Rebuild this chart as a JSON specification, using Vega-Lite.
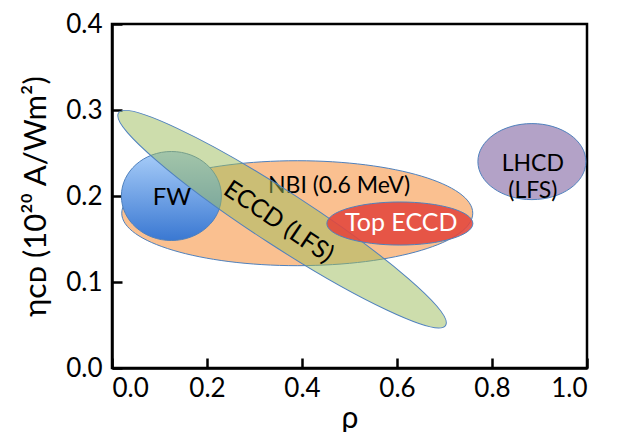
{
  "$schema": "https://vega.github.io/schema/vega-lite/v6.json",
  "width": 475,
  "height": 344,
  "autosize": {"type": "none"},
  "padding": {"left": 112, "top": 24, "right": 30, "bottom": 64},
  "background": "white",
  "config": {
    "view": {"stroke": "black", "strokeWidth": 2.5},
    "font": "Lato",
    "axis": {
      "domainColor": "black", "domainWidth": 2.5,
      "tickColor": "black", "tickWidth": 2.5, "tickSize": -10,
      "grid": false,
      "labelFont": "Lato", "labelFontSize": 26, "labelColor": "black",
      "titleFont": "Lato", "titleFontWeight": "normal", "titleColor": "black"
    }
  },
  "datasets": {
    "regions": [
      {"region": "NBI", "rho": 0.39, "eta": 0.18},
      {"region": "FW", "rho": 0.125, "eta": 0.2},
      {"region": "ECCD", "rho": 0.358, "eta": 0.173},
      {"region": "Top ECCD", "rho": 0.606, "eta": 0.168},
      {"region": "LHCD", "rho": 0.884, "eta": 0.24}
    ],
    "labels": [
      {"region": "NBI", "label": "NBI (0.6 MeV)", "rho": 0.478, "eta": 0.212},
      {"region": "FW", "label": "FW", "rho": 0.126, "eta": 0.198},
      {"region": "ECCD", "label": "ECCD (LFS)", "rho": 0.351, "eta": 0.17},
      {"region": "Top ECCD", "label": "Top ECCD", "rho": 0.609, "eta": 0.169},
      {"region": "LHCD", "label": "LHCD\n(LFS)", "rho": 0.886, "eta": 0.237}
    ]
  },
  "encoding": {
    "x": {
      "field": "rho", "type": "quantitative",
      "scale": {"domain": [0, 1], "nice": false, "zero": false},
      "axis": {"values": [0, 0.2, 0.4, 0.6, 0.8, 1.0], "format": ".1f", "labelPadding": 17, "title": "ρ", "titleFontSize": 30, "titlePadding": 2}
    },
    "y": {
      "field": "eta", "type": "quantitative",
      "scale": {"domain": [0, 0.4], "nice": false, "zero": false},
      "axis": {"values": [0, 0.1, 0.2, 0.3, 0.4], "format": ".1f", "labelPadding": 20, "title": "ηᴄᴅ (10²⁰ A/Wm²)", "titleFontSize": 31, "titlePadding": 13}
    }
  },
  "layer": [
    {
      "data": {"name": "regions"},
      "transform": [{"filter": "datum.region === 'NBI'"}],
      "mark": {"type": "point", "filled": true, "opacity": 1, "color": "#FAC090", "stroke": "#4F81BD", "strokeWidth": 1, "size": 123201,
        "shape": "M1,0C1,0.1651 0.5523,0.299 0,0.299C-0.5523,0.299 -1,0.1651 -1,0C-1,-0.1651 -0.5523,-0.299 0,-0.299C0.5523,-0.299 1,-0.1651 1,0Z"}
    },
    {
      "data": {"name": "labels"},
      "transform": [{"filter": "datum.region === 'NBI'"}],
      "mark": {"type": "text", "font": "Lato", "fontSize": 23, "color": "black", "baseline": "middle", "align": "center"},
      "encoding": {"text": {"field": "label"}}
    },
    {
      "data": {"name": "regions"},
      "transform": [{"filter": "datum.region === 'FW'"}],
      "mark": {"type": "point", "filled": true, "opacity": 1,
        "color": {"gradient": "linear", "x1": 0, "y1": 0, "x2": 0, "y2": 1, "stops": [{"offset": 0, "color": "#A9CEF9"}, {"offset": 1, "color": "#3A78D2"}]},
        "stroke": "#4F81BD", "strokeWidth": 1, "size": 10000,
        "shape": "M1,0C1,0.4915 0.5523,0.89 0,0.89C-0.5523,0.89 -1,0.4915 -1,0C-1,-0.4915 -0.5523,-0.89 0,-0.89C0.5523,-0.89 1,-0.4915 1,0Z"}
    },
    {
      "data": {"name": "regions"},
      "transform": [{"filter": "datum.region === 'ECCD'"}],
      "mark": {"type": "point", "filled": true, "opacity": 1, "color": "#9BBB59", "fillOpacity": 0.5, "stroke": "#4F81BD", "strokeWidth": 1, "size": 152100, "angle": 33,
        "shape": "M1,0C1,0.0762 0.5523,0.138 0,0.138C-0.5523,0.138 -1,0.0762 -1,0C-1,-0.0762 -0.5523,-0.138 0,-0.138C0.5523,-0.138 1,-0.0762 1,0Z"}
    },
    {
      "data": {"name": "regions"},
      "transform": [{"filter": "datum.region === 'Top ECCD'"}],
      "mark": {"type": "point", "filled": true, "opacity": 1, "color": "#E2453B", "fillOpacity": 0.88, "stroke": "#4F81BD", "strokeWidth": 1, "size": 21316,
        "shape": "M1,0C1,0.1629 0.5523,0.295 0,0.295C-0.5523,0.295 -1,0.1629 -1,0C-1,-0.1629 -0.5523,-0.295 0,-0.295C0.5523,-0.295 1,-0.1629 1,0Z"}
    },
    {
      "data": {"name": "regions"},
      "transform": [{"filter": "datum.region === 'LHCD'"}],
      "mark": {"type": "point", "filled": true, "opacity": 1, "color": "#B3A2C7", "stroke": "#4F81BD", "strokeWidth": 1, "size": 11664,
        "shape": "M1,0C1,0.3888 0.5523,0.704 0,0.704C-0.5523,0.704 -1,0.3888 -1,0C-1,-0.3888 -0.5523,-0.704 0,-0.704C0.5523,-0.704 1,-0.3888 1,0Z"}
    },
    {
      "data": {"name": "labels"},
      "transform": [{"filter": "datum.region === 'FW'"}],
      "mark": {"type": "text", "font": "Lato", "fontSize": 24, "color": "black", "baseline": "middle", "align": "center"},
      "encoding": {"text": {"field": "label"}}
    },
    {
      "data": {"name": "labels"},
      "transform": [{"filter": "datum.region === 'ECCD'"}],
      "mark": {"type": "text", "font": "Lato", "fontSize": 25, "color": "black", "baseline": "middle", "align": "center", "angle": 34},
      "encoding": {"text": {"field": "label"}}
    },
    {
      "data": {"name": "labels"},
      "transform": [{"filter": "datum.region === 'Top ECCD'"}],
      "mark": {"type": "text", "font": "Lato", "fontSize": 25, "color": "white", "baseline": "middle", "align": "center"},
      "encoding": {"text": {"field": "label"}}
    },
    {
      "data": {"name": "labels"},
      "transform": [{"filter": "datum.region === 'LHCD'"}],
      "mark": {"type": "text", "font": "Lato", "fontSize": 23, "color": "black", "baseline": "middle", "align": "center", "lineBreak": "\n", "lineHeight": 27},
      "encoding": {"text": {"field": "label"}}
    }
  ]
}
